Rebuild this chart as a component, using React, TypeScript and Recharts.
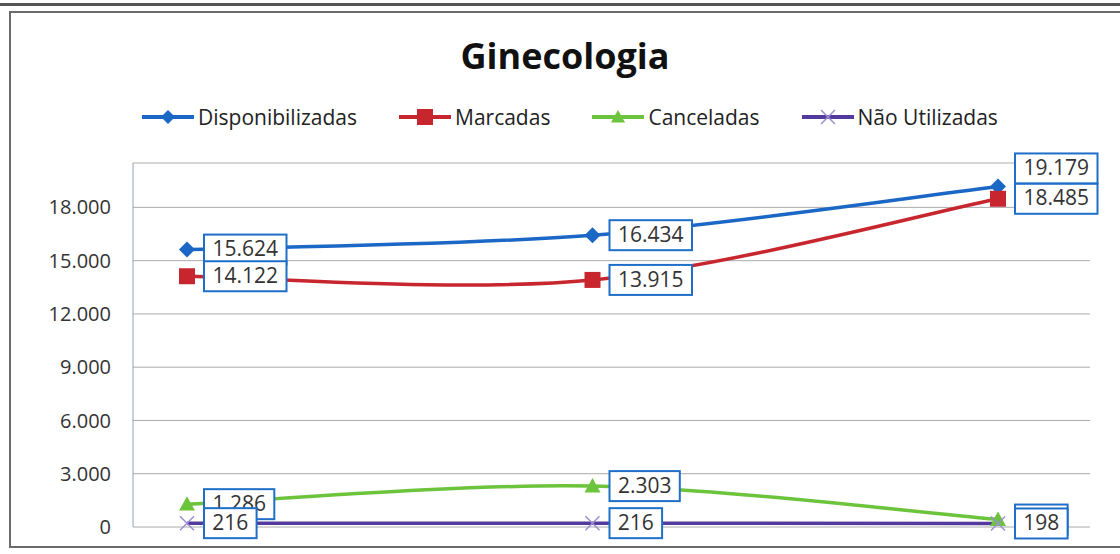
import React from "react";
import { LineChart, Line, XAxis, YAxis, CartesianGrid, LabelList } from "recharts";

const categories = ["Período 1", "Período 2", "Período 3"];
const disponibilizadas = [15624, 16434, 19179];
const marcadas = [14122, 13915, 18485];
const canceladas = [1286, 2303, 420];
const naoUtilizadas = [216, 216, 198];
const yTicks = [0, 3000, 6000, 9000, 12000, 15000, 18000];

const seriesNames = ["Disponibilizadas", "Marcadas", "Canceladas", "Não Utilizadas"];
const seriesColors = ["#1b67c6", "#c8262f", "#6cc43c", "#553a9e"];

const data = categories.map((c, i) => ({
  name: c,
  disp: disponibilizadas[i],
  marc: marcadas[i],
  canc: canceladas[i],
  nao: naoUtilizadas[i],
}));

const FONT = "'Open Sans', 'Liberation Sans', sans-serif";

// Catmull-Rom style smoothing, similar to Excel smoothed lines
const smoothCurve: any = (context: any) => {
  let pts: number[][] = [];
  return {
    areaStart() {},
    areaEnd() {},
    lineStart() {
      pts = [];
    },
    point(x: number, y: number) {
      pts.push([+x, +y]);
    },
    lineEnd() {
      if (!pts.length) return;
      context.moveTo(pts[0][0], pts[0][1]);
      const k = 1 / 6;
      for (let i = 0; i < pts.length - 1; i++) {
        const p0 = pts[i - 1] || pts[i];
        const p1 = pts[i];
        const p2 = pts[i + 1];
        const p3 = pts[i + 2] || p2;
        context.bezierCurveTo(
          p1[0] + (p2[0] - p0[0]) * k,
          p1[1] + (p2[1] - p0[1]) * k,
          p2[0] - (p3[0] - p1[0]) * k,
          p2[1] - (p3[1] - p1[1]) * k,
          p2[0],
          p2[1]
        );
      }
    },
  };
};

const fmt = (v: number) => v.toLocaleString("de-DE");

const textWidth = (s: string) => {
  let w = 0;
  for (const ch of s) w += ch === "." ? 5.5 : 12.2;
  return w;
};

const makeLabel = (shiftUpIndex: number | null) => (props: any) => {
  const { x, y, value, index } = props;
  const s = fmt(value);
  const w = textWidth(s) + 16;
  const h = 30;
  let cy = y;
  if (shiftUpIndex !== null && index === shiftUpIndex) cy = y - 18;
  const bx = x + 17;
  return (
    <g>
      <rect x={bx} y={cy - h / 2} width={w} height={h} fill="#fff" stroke="#1f6fc8" strokeWidth={2} />
      <text
        x={bx + w / 2}
        y={cy + 1}
        textAnchor="middle"
        dominantBaseline="middle"
        fontFamily={FONT}
        fontSize={21}
        fill="#333"
      >
        {s}
      </text>
    </g>
  );
};

const Diamond = ({ cx, cy, color, size = 8 }: any) =>
  cx == null ? null : (
    <path d={`M${cx},${cy - size} L${cx + size},${cy} L${cx},${cy + size} L${cx - size},${cy} Z`} fill={color} />
  );
const Square = ({ cx, cy, color, size = 8 }: any) =>
  cx == null ? null : <rect x={cx - size} y={cy - size} width={size * 2} height={size * 2} fill={color} />;
const Triangle = ({ cx, cy, color, size = 8 }: any) =>
  cx == null ? null : (
    <path d={`M${cx},${cy - size} L${cx + size},${cy + size * 0.8} L${cx - size},${cy + size * 0.8} Z`} fill={color} />
  );
const Cross = ({ cx, cy, color, size = 7 }: any) =>
  cx == null ? null : (
    <path
      d={`M${cx - size},${cy - size} L${cx + size},${cy + size} M${cx - size},${cy + size} L${cx + size},${cy - size}`}
      stroke={color}
      strokeWidth={1.5}
      fill="none"
    />
  );

const markerFns = [Diamond, Square, Triangle, Cross];
const markerColors = ["#1b67c6", "#c8262f", "#6cc43c", "#9a8fd0"];

const LegendIcon = ({ i }: { i: number }) => {
  const M = markerFns[i];
  return (
    <svg width={56} height={20} style={{ display: "block" }}>
      <line x1={2} y1={10} x2={54} y2={10} stroke={seriesColors[i]} strokeWidth={4} />
      <M cx={28} cy={10} color={markerColors[i]} size={i === 1 ? 8 : 7} />
    </svg>
  );
};

export default function App() {
  return (
    <div style={{ position: "absolute", left: 0, top: 0, width: 1120, height: 554, background: "#fff", overflow: "hidden" }}>
      <div style={{ position: "absolute", left: 0, top: 3, width: 1120, height: 3, background: "#555" }} />
      <div
        style={{
          position: "absolute",
          left: 9,
          top: 11,
          width: 1150,
          height: 537,
          border: "2px solid #6a6a6a",
          boxSizing: "border-box",
        }}
      />
      <div
        style={{
          position: "absolute",
          left: 10,
          width: 1110,
          top: 31,
          textAlign: "center",
          fontFamily: FONT,
          fontWeight: 700,
          fontSize: 36,
          color: "#111",
          lineHeight: "50px",
        }}
      >
        Ginecologia
      </div>
      <div
        style={{
          position: "absolute",
          left: 140,
          top: 103,
          display: "flex",
          alignItems: "center",
          fontFamily: FONT,
          fontSize: 21,
          color: "#222",
        }}
      >
        {seriesNames.map((n, i) => (
          <div key={n} style={{ display: "flex", alignItems: "center", marginRight: 40 }}>
            <LegendIcon i={i} />
            <span style={{ marginLeft: 2 }}>{n}</span>
          </div>
        ))}
      </div>
      <div style={{ position: "absolute", left: 0, top: 0 }}>
        <LineChart width={1120} height={554} data={data} margin={{ top: 163, right: 30, bottom: 27, left: 10 }}>
          <CartesianGrid vertical={false} stroke="#aaaaaa" strokeWidth={1} />
          <XAxis
            dataKey="name"
            tick={false}
            height={0}
            tickLine={false}
            axisLine={{ stroke: "#9a9a9a" }}
            padding={{ left: 54, right: 92 }}
          />
          <YAxis
            width={123}
            domain={[0, 20500]}
            ticks={yTicks}
            tickFormatter={(v: number) => fmt(v)}
            tickLine={false}
            tickSize={0}
            tickMargin={22}
            axisLine={{ stroke: "#8ea3bd" }}
            tick={{ fontSize: 20, fill: "#333", fontFamily: FONT }}
          />
          <Line
            dataKey="disp"
            type={smoothCurve}
            stroke={seriesColors[0]}
            strokeWidth={3.5}
            isAnimationActive={false}
            dot={(p: any) => <Diamond key={p.index} cx={p.cx} cy={p.cy} color={markerColors[0]} size={8} />}
          >
            <LabelList dataKey="disp" content={makeLabel(2)} />
          </Line>
          <Line
            dataKey="marc"
            type={smoothCurve}
            stroke={seriesColors[1]}
            strokeWidth={3.5}
            isAnimationActive={false}
            dot={(p: any) => <Square key={p.index} cx={p.cx} cy={p.cy} color={markerColors[1]} size={8} />}
          >
            <LabelList dataKey="marc" content={makeLabel(null)} />
          </Line>
          <Line
            dataKey="canc"
            type={smoothCurve}
            stroke={seriesColors[2]}
            strokeWidth={3.5}
            isAnimationActive={false}
            dot={(p: any) => <Triangle key={p.index} cx={p.cx} cy={p.cy} color={markerColors[2]} size={8} />}
          >
            <LabelList dataKey="canc" content={makeLabel(null)} />
          </Line>
          <Line
            dataKey="nao"
            type={smoothCurve}
            stroke={seriesColors[3]}
            strokeWidth={3.5}
            isAnimationActive={false}
            dot={(p: any) => <Cross key={p.index} cx={p.cx} cy={p.cy} color={markerColors[3]} size={7} />}
          >
            <LabelList dataKey="nao" content={makeLabel(null)} />
          </Line>
        </LineChart>
      </div>
    </div>
  );
}
